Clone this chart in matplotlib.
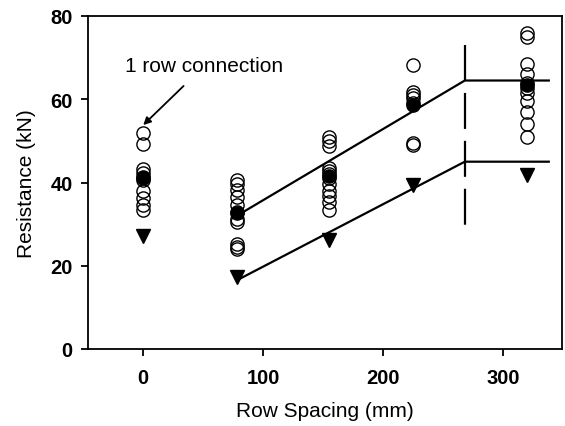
import matplotlib
matplotlib.use("Agg")
import matplotlib.pyplot as plt
import numpy as np

plt.rcParams['font.family'] = ['Liberation Sans', 'DejaVu Sans']
plt.rcParams['lines.scale_dashes'] = False

# Individual test results (open circles)
x_ind = [0]*10 + [78]*11 + [155]*12 + [225]*7 + [320]*11
y_ind = [51.8, 49.3, 43.2, 42.4, 41.2, 40.5, 38.0, 36.2, 34.5, 33.5,
         40.6, 39.6, 38.2, 36.4, 34.6, 32.8, 31.2, 30.5, 25.2, 24.6, 24.1,
         51.0, 50.0, 48.8, 43.6, 42.8, 42.0, 41.2, 39.6, 38.0, 36.8, 35.2, 33.4,
         68.2, 61.8, 61.0, 60.2, 59.2, 49.6, 49.0,
         76.0, 75.0, 68.5, 66.0, 63.8, 62.6, 61.5, 59.6, 57.0, 54.0, 51.0]

# Mean values (filled circles)
x_mean = [0, 78, 155, 225, 320]
y_mean = [41.3, 32.6, 41.6, 58.6, 63.4]

# Characteristic values (filled down-triangles)
x_char = [0, 78, 155, 225, 320]
y_char = [27.2, 17.2, 26.3, 39.4, 41.9]

# Fitted bilinear models
x_fit = [78, 268, 338]
y_fit_mean = [32.0, 64.5, 64.5]
y_fit_char = [16.5, 45.0, 45.0]

# Vertical limit line (drawn top to bottom)
x_limit = [268, 268]
y_limit = [73.0, 29.5]

fig = plt.figure(figsize=(5.65, 4.27), dpi=100)
ax = fig.add_axes([88/565, 1-350/427, (562-88)/565, (350-17)/427])

ax.plot(x_fit, y_fit_mean, color='black', lw=1.6, zorder=2)
ax.plot(x_fit, y_fit_char, color='black', lw=1.6, zorder=2)
ax.plot(x_limit, y_limit, color='black', lw=1.6, dashes=(25.9, 8.6), zorder=2)

ax.plot(x_ind, y_ind, linestyle='none', marker='o', ms=9.5, mfc='none',
        mec='black', mew=1.0, zorder=3)
ax.plot(x_mean, y_mean, linestyle='none', marker='o', ms=9.5, mfc='black',
        mec='black', zorder=4)
ax.plot(x_char, y_char, linestyle='none', marker='v', ms=10.5, mfc='black',
        mec='black', zorder=4)

ax.annotate('1 row connection', xy=(0, 53.8), xytext=(-15, 68.0),
            fontsize=15, ha='left', va='center',
            arrowprops=dict(arrowstyle='-|>', color='black', lw=1.3,
                            mutation_scale=11, shrinkA=8, shrinkB=0))

ax.set_xlim(-46, 349)
ax.set_ylim(0, 80)
ax.set_xticks([0, 100, 200, 300])
ax.set_yticks([0, 20, 40, 60, 80])
for lab in ax.get_xticklabels() + ax.get_yticklabels():
    lab.set_fontweight('bold')
ax.tick_params(axis='both', direction='out', length=5, width=1.3,
               labelsize=14.5, pad=6)
ax.tick_params(axis='x', pad=9)
for s in ax.spines.values():
    s.set_linewidth(1.3)

ax.set_xlabel('Row Spacing (mm)', fontsize=15, labelpad=10)
ax.set_ylabel('Resistance (kN)', fontsize=15, labelpad=10)

fig.savefig('out.png', dpi=100)
